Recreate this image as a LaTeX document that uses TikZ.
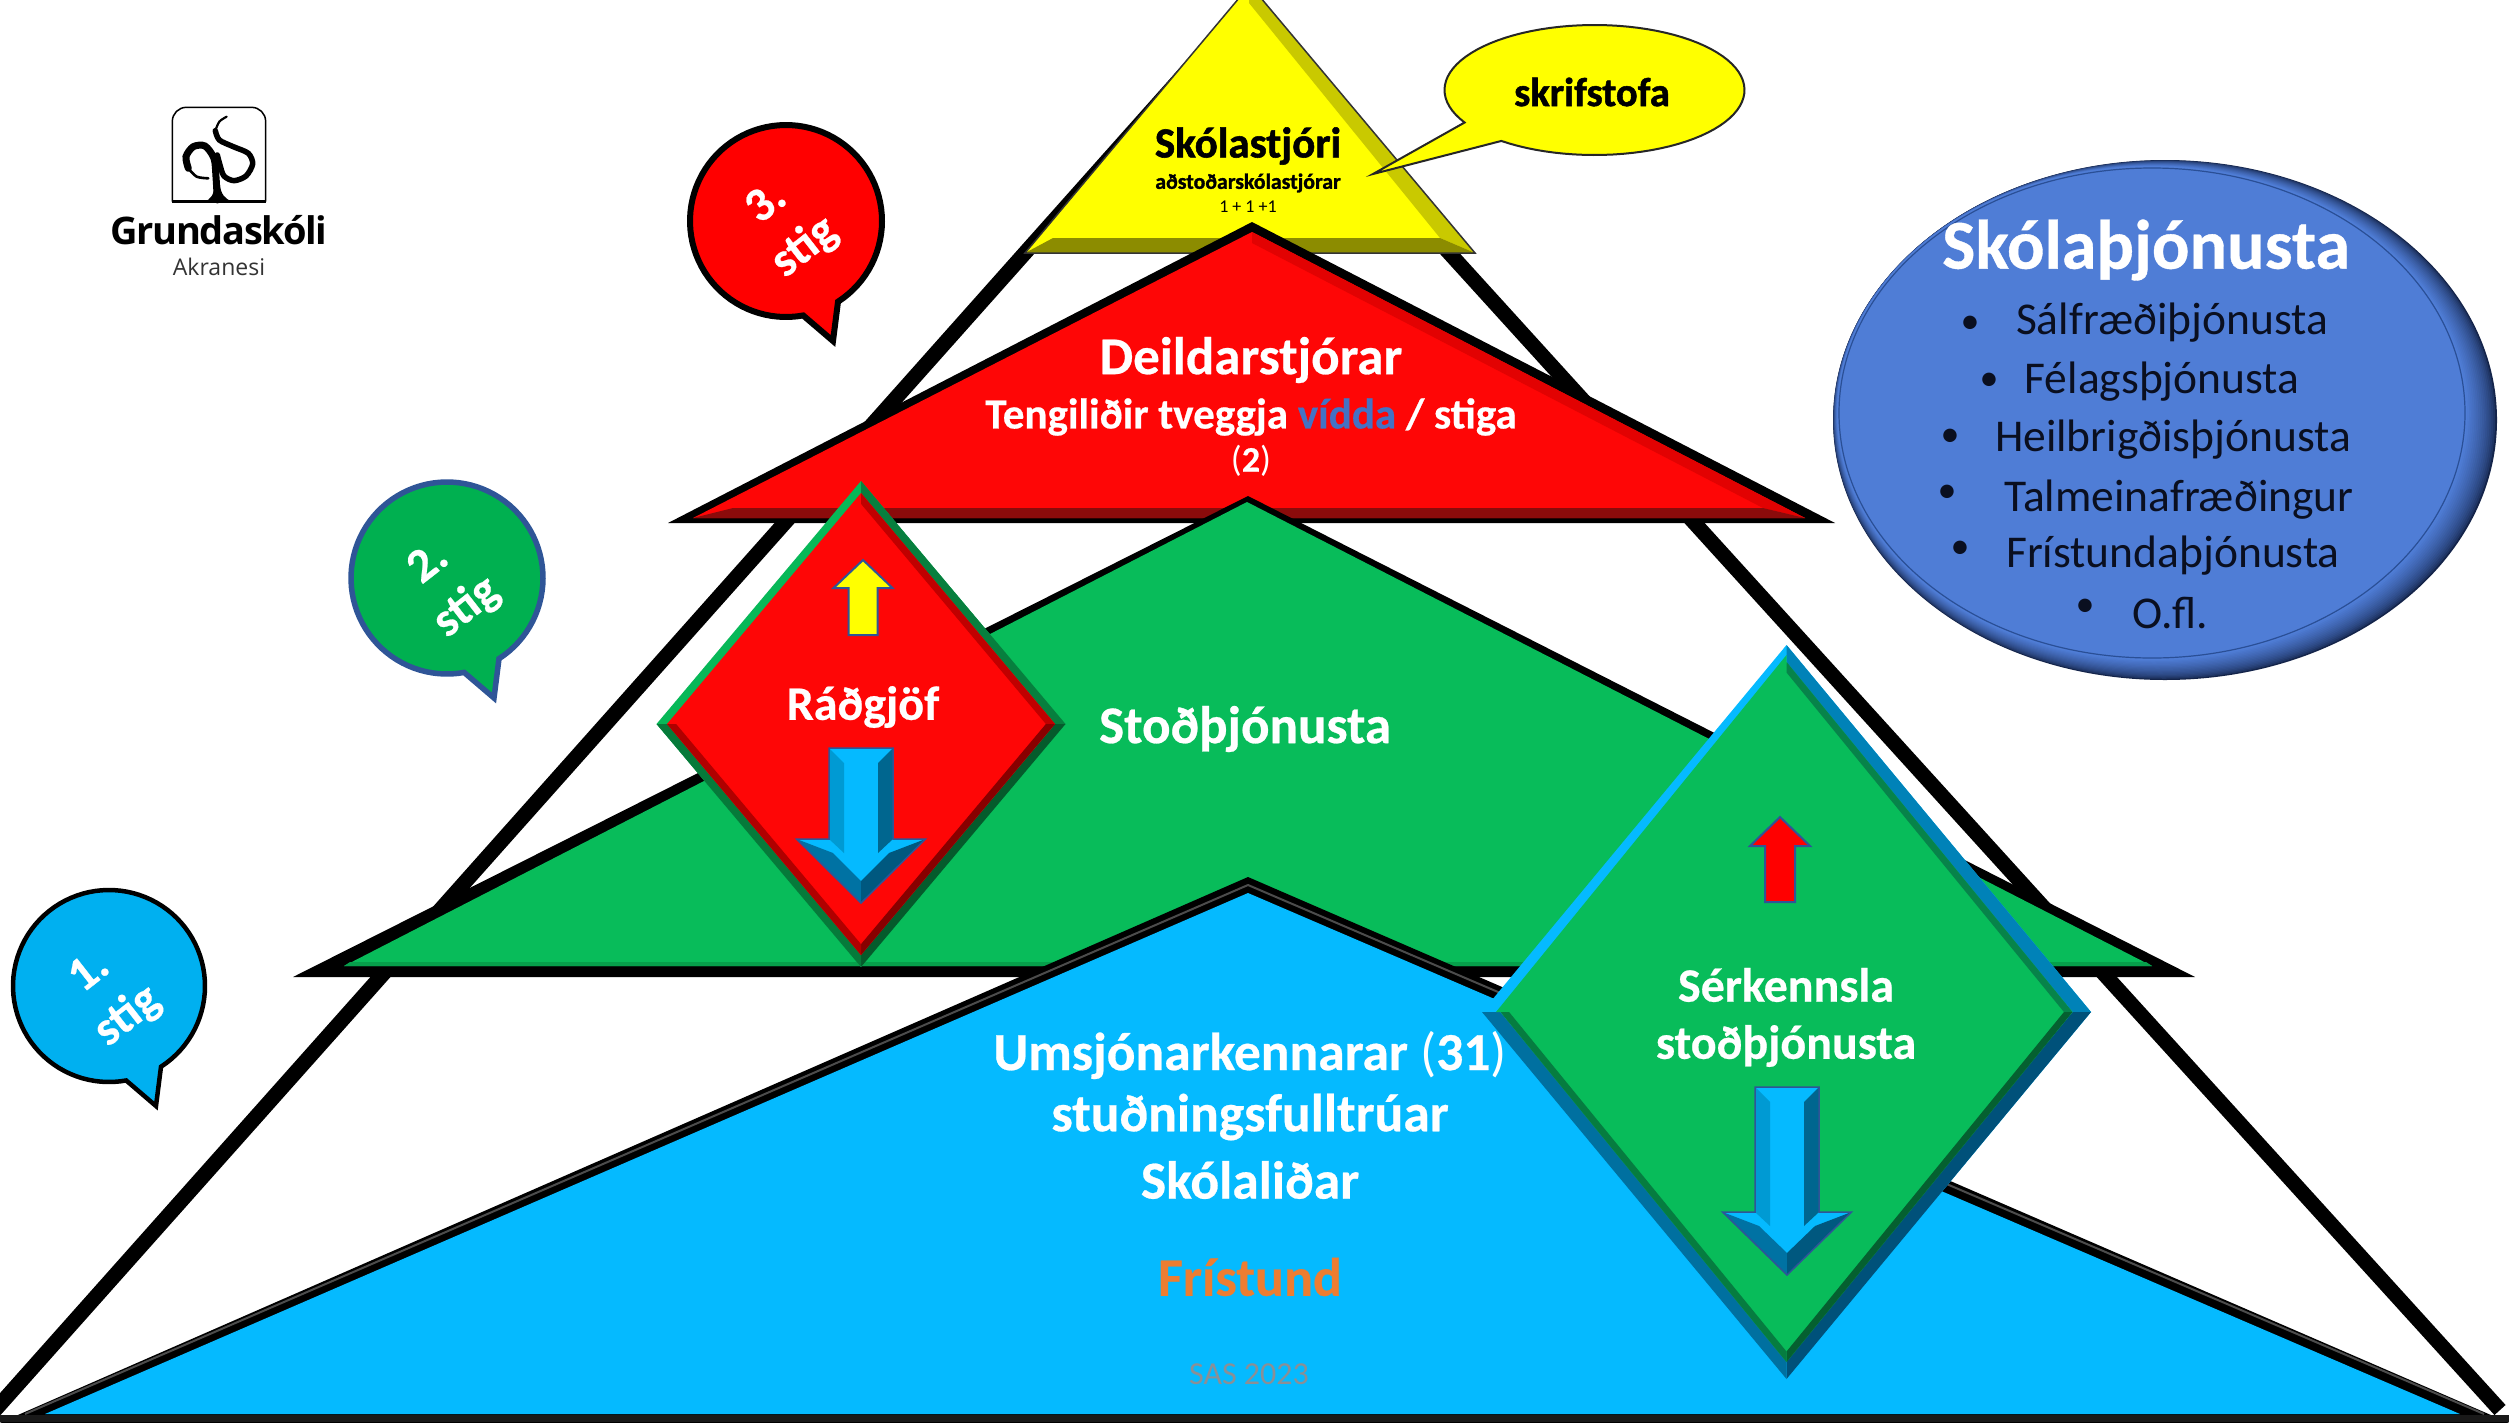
\documentclass[tikz,border=0pt]{standalone}
\usepackage{fontspec}
\setmainfont{Carlito}[BoldFeatures={FakeBold=0.5}]
\newfontfamily\heavy{Carlito}[BoldFeatures={FakeBold=1.3}]
\newfontfamily\logofont{Open Sans}
\newfontfamily\logobold{Open Sans}[LetterSpace=-3.5]
\definecolor{bblue}{HTML}{05BAFF}
\definecolor{bgreen}{HTML}{08BC5A}
\definecolor{bred}{HTML}{FE0606}
\definecolor{byel}{HTML}{FFFF00}
\definecolor{yelR}{HTML}{C9C900}
\definecolor{yelB}{HTML}{8C8C00}
\definecolor{redR}{HTML}{E20202}
\definecolor{redB}{HTML}{8B0B0B}
\definecolor{grnB}{HTML}{06A04B}
\definecolor{arline}{HTML}{2F5597}
\definecolor{shL}{HTML}{009AD3}
\definecolor{shR}{HTML}{00668F}
\definecolor{shHL}{HTML}{0072A3}
\definecolor{shHR}{HTML}{00587F}
\definecolor{gTL}{HTML}{07B858}
\definecolor{gTR}{HTML}{077F3E}
\definecolor{gBR}{HTML}{055B2C}
\definecolor{gBL}{HTML}{067A3A}
\definecolor{rTR}{HTML}{C00000}
\definecolor{rBR}{HTML}{880000}
\definecolor{rBL}{HTML}{B00000}
\definecolor{bTR}{HTML}{0082B8}
\definecolor{bBR}{HTML}{00517A}
\definecolor{bBL}{HTML}{0070A0}
\definecolor{g2TR}{HTML}{07834A}
\definecolor{g2BR}{HTML}{056030}
\definecolor{g2BL}{HTML}{067C40}
\definecolor{vidda}{HTML}{4472C4}
\definecolor{frist}{HTML}{ED7D31}
\definecolor{sasgray}{HTML}{8A8F96}
\definecolor{ballmain}{HTML}{4F7DD6}
\definecolor{balldark}{HTML}{14244A}
\definecolor{ballring}{HTML}{2A4F96}
\definecolor{balltext}{HTML}{0A0F20}
\definecolor{b1col}{HTML}{00B0F0}
\definecolor{b2col}{HTML}{00B050}
\newcommand\fsz[1]{\fontsize{#1}{#1}\selectfont}
% bevelled diamond: cx cy rx ry k main TR BR BL
\newcommand\bevdia[9]{%
  \fill[#6] (#1,{#2-#4})--({#1+#3},#2)--(#1,{#2+#4})--({#1-#3},#2)--cycle;
  \fill[#7] (#1,{#2-#4})--({#1+#3},#2)--({#1+#3*#5},#2)--(#1,{#2-#4*#5})--cycle;
  \fill[#8] ({#1+#3},#2)--(#1,{#2+#4})--(#1,{#2+#4*#5})--({#1+#3*#5},#2)--cycle;
  \fill[#9] (#1,{#2+#4})--({#1-#3},#2)--({#1-#3*#5},#2)--(#1,{#2+#4*#5})--cycle;
}
% bevelled down arrow: cx ytop headrel notchrel innertiprel tiprel
\newcommand\bevarrow[6]{%
  \fill[bblue] ({#1-32},#2)--({#1+32},#2)--({#1+32},{#2+#3})--({#1+64.5},{#2+#3})--(#1,{#2+#6})--({#1-64.5},{#2+#3})--({#1-32},{#2+#3})--cycle;
  \fill[shL] ({#1-32},#2)--({#1-17},{#2+15})--({#1-17},{#2+#4})--({#1-32},{#2+#3})--cycle;
  \fill[shR] ({#1+32},#2)--({#1+17},{#2+15})--({#1+17},{#2+#4})--({#1+32},{#2+#3})--cycle;
  \fill[shHL] ({#1-64.5},{#2+#3})--({#1-28},{#2+#4})--(#1,{#2+#5})--(#1,{#2+#6})--cycle;
  \fill[shHR] ({#1+64.5},{#2+#3})--({#1+28},{#2+#4})--(#1,{#2+#5})--(#1,{#2+#6})--cycle;
  \draw[arline,line width=1.5,line join=miter] ({#1-32},#2)--({#1+32},#2)--({#1+32},{#2+#3})--({#1+64.5},{#2+#3})--(#1,{#2+#6})--({#1-64.5},{#2+#3})--({#1-32},{#2+#3})--cycle;
}
% up arrow: cx ytip headbase bottom headhalf shafthalf fill
\newcommand\uparr[7]{%
  \draw[arline,line width=2,fill=#7] (#1,#2)--({#1+#5},#3)--({#1+#6},#3)--({#1+#6},#4)--({#1-#6},#4)--({#1-#6},#3)--({#1-#5},#3)--cycle;
}
% speech bubble: cx cy fill line width
\newcommand\bubble[5]{%
  \draw[fill=#3,draw=#4,line width=#5,line join=miter]
    plot[domain=79.7:417.2,samples=90,variable=\a] ({#1+96*cos(\a)},{#2+96*sin(\a)})
    --({#1+47},{#2+120})--cycle;
}
\newcommand\stigtext[1]{#1\\\hspace*{6pt}stig}
\tikzset{
  txt/.style={inner sep=0pt,outer sep=0pt,align=center},
  whb/.style={txt,text=white,font=\bfseries},
  stigt/.style={whb,rotate=38,font=\bfseries\fontsize{48}{58}\selectfont},
  balli/.style={txt,text=balltext,font=\fsz{45.5}},
  balld/.style={txt,text=balltext,font=\fsz{38}},
}
\begin{document}
\begin{tikzpicture}[x=1pt,y=-1pt]
\path[clip] (0,0) rectangle (2509,1422);
\fill[white] (0,0) rectangle (2509,1422);
% big outline
\draw[black,line width=15,line join=miter] (-5,1410)--(1235,17)--(2500,1410);
% yellow
\fill[byel] (1250,-15)--(1475,253)--(1025,253)--cycle;
\fill[yelR] (1250,-15)--(1475,253)--(1440,238)--(1249,3)--cycle;
\fill[yelB] (1025,253)--(1475,253)--(1440,238)--(1053,238)--cycle;
\draw[black!80,line width=1.5,line join=miter] (1025,253)--(1250,-15)--(1475,253)--cycle;
\node[txt,font=\heavy\bfseries\fsz{43}] (skolastjori) at (1248,146) {Skólastjóri};
\node[txt,font=\heavy\bfseries\fsz{21.8}] (adstod) at (1248,183) {aðstoðarskólastjórar};
\node[txt,font=\fsz{18}] (tala) at (1248,207) {1 + 1 +1};
% callout
\draw[fill=byel,draw=black!85,line width=2,line join=miter]
  plot[domain=150:488.4,samples=90,variable=\a] ({1594.5+150*cos(\a)},{90+65*sin(\a)})
  --(1373,174)--cycle;
\node[txt,font=\heavy\bfseries\fsz{40.5}] (skrif) at (1592,92) {skrifstofa};
% red
\fill[black] (668,523)--(1252,222)--(1835,523)--cycle;
\fill[bred] (693,518)--(1252,232)--(1805,518)--cycle;
\fill[redR] (1252,232)--(1805,518)--(1763,508)--(1252,243)--cycle;
\fill[redB] (693,518)--(733,508)--(1763,508)--(1805,518)--cycle;
\node[whb,font=\bfseries\fsz{53}] (deild) at (1251,360) {Deildarstjórar};
\node[whb,font=\bfseries\fsz{43}] (tengi) at (1251,417) {Tengiliðir tveggja \textcolor{vidda}{vídda} / stiga};
\node[whb,font=\fsz{36}] (tveir) at (1251,461) {(\textbf{2})};
% green
\fill[black] (293,977)--(1248,496)--(2195,977)--cycle;
\fill[bgreen] (344,966)--(1247,502)--(2152,966)--cycle;
\fill[grnB] (350,962)--(2146,962)--(2152,966)--(344,966)--cycle;
\node[whb,font=\bfseries\fsz{53}] (stod) at (1245,729) {Stoðþjónusta};
% blue
\fill[black] (-5,1425)--(1248,877)--(2514,1425)--cycle;
\draw[black!70,line width=2,line join=round] (25,1414)--(1248,885)--(2484,1414);
\fill[bblue] (45,1414)--(1248,893)--(2460,1414)--cycle;
\fill[black!90] (0,1415) rectangle (2509,1422);
\node[whb,font=\bfseries\fsz{53.5}] (studn) at (1250,1117) {stuðningsfulltrúar};
\node[whb,font=\bfseries\fsz{53.5}] (skolal) at (1250,1180) {Skólaliðar};
\node[txt,text=frist,font=\bfseries\fsz{54}] (frist) at (1250,1277) {Frístund};
\node[txt,text=sasgray,font=\fsz{32}] (sas) at (1249,1374) {SAS 2023};
% Radgjof diamond
\bevdia{861}{724}{204.5}{243}{.949}{gTL}{gTR}{gBR}{gBL}
\bevdia{861}{724}{194}{231}{.953}{bred}{rTR}{rBR}{rBL}
\uparr{863}{560}{588}{635}{29.5}{14.5}{byel}
\bevarrow{861}{748}{91}{105}{133}{155}
\node[whb,font=\bfseries\fsz{48}] (radg) at (863,707) {Ráðgjöf};
% Serkennsla diamond
\bevdia{1786.5}{1012}{304.5}{367}{.94}{bblue}{bTR}{bBR}{bBL}
\bevdia{1786.5}{1012}{286}{350}{.97}{bgreen}{g2TR}{g2BR}{g2BL}
\fill[bgreen] (1786.5,655)--(1496,1012)--(1502,1012)--(1786.5,663)--cycle;
\uparr{1780}{817}{846}{902}{30}{15}{red}
\bevarrow{1787}{1087}{125}{139}{166}{188}
\node[whb,font=\bfseries\fsz{48}] (serk) at (1786,985) {Sérkennsla};
\node[whb,font=\bfseries\fsz{48}] (stod2) at (1786,1046) {stoðþjónusta};
\node[whb,font=\bfseries\fsz{53.5}] (umsjon) at (1250,1055) {Umsjónarkennarar \textmd{(}31\textmd{)}};
% bubbles
\bubble{786}{221}{red}{black}{6}
\node[stigt] (s3) at (785,227) {\stigtext{3.}};
\bubble{447}{578}{b2col}{arline}{5.5}
\node[stigt] (s2) at (447,587) {\stigtext{2.}};
\bubble{109}{986}{b1col}{black}{4.5}
\node[stigt] (s1) at (108,996) {\stigtext{1.}};
% ball
\foreach \i in {0,...,16}{
  \pgfmathsetmacro\t{\i/16}
  \pgfmathsetmacro\p{100*\t^0.6}
  \pgfmathsetmacro\cxb{2165-13*\t}
  \pgfmathsetmacro\cyb{420-7*\t}
  \pgfmathsetmacro\rxb{332-17*\t}
  \pgfmathsetmacro\ryb{260-13*\t}
  \fill[ballmain!\p!balldark] (\cxb,\cyb) ellipse [x radius=\rxb,y radius=\ryb];
}
\draw[ballring,line width=1.2] (2152,413) ellipse [x radius=313,y radius=245];
\node[whb,font=\bfseries\fsz{70}] (skola) at (2146,250) {Skólaþjónusta};
\node[balld] (b1) at (1970,325) {•};
\node[balli] (l1) at (2172,323) {Sálfræðiþjónusta};
\node[balld] (b2) at (1989,382) {•};
\node[balli] (l2) at (2162,382) {Félagsþjónusta};
\node[balld] (b3) at (1950,438) {•};
\node[balli] (l3) at (2173,440) {Heilbrigðisþjónusta};
\node[balld] (b4) at (1947,494) {•};
\node[balli] (l4) at (2179,500) {Talmeinafræðingur};
\node[balld] (b5) at (1960,550) {•};
\node[balli] (l5) at (2173,556) {Frístundaþjónusta};
\node[balld] (b6) at (2085,608) {•};
\node[balli] (l6) at (2170,613) {O.fl.};
% logo
\begin{scope}[shift={(80,90)},x=0.3333pt,y=-0.3333pt]
  \draw[black,line width=1.5,rounded corners=14] (277,335)--(277,52)--(557,52)--(557,335);
  \draw[black,line width=3] (277,335)--(557,335);
  \draw[black,line width=2.2,line cap=round] plot[smooth] coordinates {(440,80) (418,95) (406,122)};
  \draw[black,line width=5.5,line cap=round] plot[smooth] coordinates {(406,122) (418,150) (460,170) (505,190) (518,222) (498,258) (462,272) (432,258) (420,225) (412,195)};
  \draw[black,line width=7,line cap=round] plot[smooth] coordinates {(412,330) (408,260) (402,205) (375,168) (340,170) (318,200) (325,235)};
  \draw[black,line width=2.6,line cap=round] plot[smooth] coordinates {(325,235) (350,260) (385,265)};
  \fill[black] (370,335)..controls (395,330) and (402,310)..(404,285)--(420,285)..controls (422,310) and (435,330)..(460,335)--cycle;
\end{scope}
\node[txt,font={\logobold\bfseries\fsz{38}}] (grunda) at (219,230) {Grundaskóli};
\node[txt,text=black!80,font={\logofont\fsz{23}}] (akra) at (219,267) {Akranesi};
\end{tikzpicture}
\end{document}
